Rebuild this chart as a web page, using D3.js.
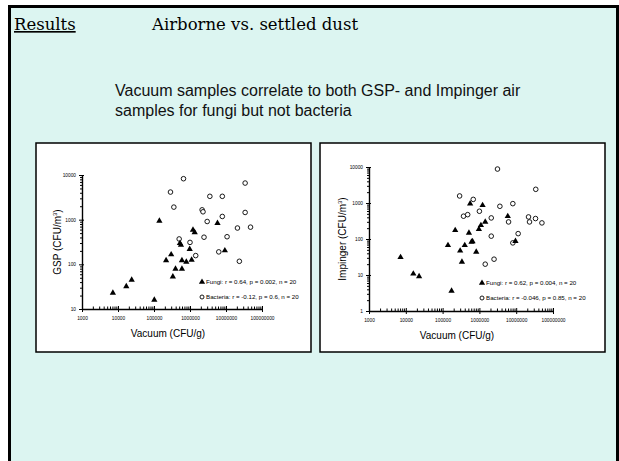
<!DOCTYPE html>
<html>
<head>
<meta charset="utf-8">
<script src="https://cdn.jsdelivr.net/npm/d3@7"></script>
<style>
  body { margin: 0; background: #fff; }
  svg text { font-family: "Liberation Sans", Arial, sans-serif; }
</style>
</head>
<body>
<div id="slide"></div>
<script>
// vacuum (CFU/g) vs air (CFU/m3) pairs
const gspFungi = [
  [7200, 23], [17000, 32], [24000, 45], [141000, 940], [102000, 16],
  [217000, 122], [300000, 166], [334000, 53], [396000, 79], [525000, 296],
  [560000, 270], [597000, 122], [597000, 79], [790000, 113], [980000, 219],
  [1110000, 126], [1210000, 592], [1350000, 517], [5800000, 837], [9300000, 204]
];
const gspBacteria = [
  [660000, 8260], [287000, 4150], [356000, 1910], [3560000, 3330], [7900000, 3330],
  [34000000, 6600], [2170000, 1660], [2300000, 1500], [3000000, 910], [7900000, 1180],
  [34000000, 1450], [20800000, 650], [48000000, 680], [2450000, 405], [500000, 370],
  [1000000, 310], [1440000, 157], [10700000, 415], [6300000, 190], [23500000, 117]
];
const impFungi = [
  [7200, 31], [16000, 10.8], [23000, 9.1], [175000, 3.6], [140000, 67],
  [220000, 175], [300000, 47], [335000, 23], [400000, 67], [520000, 148],
  [560000, 960], [610000, 83], [650000, 86], [820000, 44], [970000, 187],
  [1100000, 240], [1220000, 863], [1440000, 298], [5900000, 428], [9550000, 87]
];
const impBacteria = [
  [3100000, 8770], [290000, 1570], [680000, 1260], [34000000, 2400], [3600000, 810],
  [8100000, 960], [1000000, 590], [370000, 430], [480000, 475], [2100000, 385],
  [6200000, 298], [21600000, 410], [23000000, 298], [33500000, 370], [50000000, 280],
  [11300000, 141], [2100000, 120], [8100000, 78], [2500000, 27.5], [1440000, 20]
];

const xTicks = [1e3, 1e4, 1e5, 1e6, 1e7, 1e8];
const gspTicks = [10, 100, 1000, 10000];
const impTicks = [1, 10, 100, 1000, 10000];
const gspLegend = ["Fungi: r = 0.64, p = 0.002, n = 20", "Bacteria: r = -0.12, p = 0.6, n = 20"];
const impLegend = ["Fungi: r = 0.62, p = 0.004, n = 20", "Bacteria: r = -0.046, p = 0.85, n = 20"];

const W = 619, H = 461;
const svg = d3.select("#slide").append("svg")
  .attr("width", W).attr("height", H);

// slide background + frame
svg.append("rect").attr("x", 9.5).attr("y", 6.5).attr("width", 608).attr("height", 470)
  .attr("fill", "#dcf5f1").attr("stroke", "#000").attr("stroke-width", 3);

svg.append("text").attr("x", 14).attr("y", 30)
  .style("font-family", "'DejaVu Serif', serif").style("font-size", "16.5px")
  .style("text-decoration", "underline")
  .text("Results");
svg.append("text").attr("x", 152).attr("y", 30)
  .style("font-family", "'DejaVu Serif', serif").style("font-size", "16.5px")
  .text("Airborne vs. settled dust");

svg.append("text").attr("x", 115).attr("y", 96)
  .style("font-size", "16px").attr("fill", "#111")
  .text("Vacuum samples correlate to both GSP- and Impinger air");
svg.append("text").attr("x", 115).attr("y", 116)
  .style("font-size", "16px").attr("fill", "#111")
  .text("samples for fungi but not bacteria");

function minors(lo, hi) {
  const out = [];
  for (let p = lo; p < hi; p *= 10) for (let k = 2; k <= 9; k++) out.push(p * k);
  return out;
}

function panel(opt) {
  const g = svg.append("g");
  g.append("rect").attr("x", opt.box[0]).attr("y", opt.box[1])
    .attr("width", opt.box[2]).attr("height", opt.box[3])
    .attr("fill", "#fff").attr("stroke", "#000").attr("stroke-width", 1.5);

  const x = d3.scaleLog().domain([1e3, 1e8]).range(opt.xr);
  const y = d3.scaleLog().domain([opt.yTicks[0], opt.yTicks[opt.yTicks.length - 1]]).range(opt.yr);

  // minor ticks first
  g.append("g").attr("transform", `translate(0,${opt.yr[0]})`)
    .call(d3.axisTop(x).tickValues(minors(1e3, 1e8)).tickSize(2.5).tickFormat(""))
    .call(a => a.select(".domain").remove());
  g.append("g").attr("transform", `translate(${opt.xr[0]},0)`)
    .call(d3.axisLeft(y).tickValues(minors(opt.yTicks[0], opt.yTicks[opt.yTicks.length - 1])).tickSize(2).tickFormat(""))
    .call(a => a.select(".domain").remove());

  const xAxis = g.append("g").attr("transform", `translate(0,${opt.yr[0]})`)
    .call(d3.axisBottom(x).tickValues(xTicks).tickSizeInner(3).tickSizeOuter(0).tickPadding(5).tickFormat(d3.format("d")));
  xAxis.selectAll(".tick line").attr("y1", -3);
  xAxis.selectAll("text").style("font-size", "4.8px").style("font-family", "'Liberation Sans', Arial");

  const yAxis = g.append("g").attr("transform", `translate(${opt.xr[0]},0)`)
    .call(d3.axisLeft(y).tickValues(opt.yTicks).tickSizeInner(3).tickSizeOuter(0).tickPadding(3).tickFormat(d3.format("d")));
  yAxis.selectAll(".tick line").attr("x1", 2);
  yAxis.selectAll("text").style("font-size", "4.8px").style("font-family", "'Liberation Sans', Arial");
  g.selectAll(".domain").attr("stroke-width", 1.4);

  g.append("text").attr("x", (opt.xr[0] + opt.xr[1]) / 2 - 4).attr("y", opt.yr[0] + 28)
    .attr("text-anchor", "middle").style("font-size", "10px").text("Vacuum (CFU/g)");
  g.append("text").attr("transform", `translate(${opt.yLabX},${(opt.yr[0] + opt.yr[1]) / 2}) rotate(-90)`)
    .attr("text-anchor", "middle").style("font-size", "10px")
    .text(opt.yLabel).append("tspan").attr("dy", -4).style("font-size", "6px").text("3")
    .select(function () { return this.parentNode; })
    .append("tspan").attr("dy", 4).text(")");

  const tri = d3.symbol(d3.symbolTriangle).size(17);

  g.append("g").selectAll("circle").data(opt.bacteria).join("circle")
    .attr("cx", d => x(d[0])).attr("cy", d => y(d[1])).attr("r", 2.3)
    .attr("fill", "#fff").attr("stroke", "#000").attr("stroke-width", 0.9);
  g.append("g").selectAll("path").data(opt.fungi).join("path")
    .attr("d", tri).attr("transform", d => `translate(${x(d[0])},${y(d[1])})`)
    .attr("fill", "#000");

  // legend
  const lg = g.append("g").attr("transform", `translate(${opt.leg[0]},${opt.leg[1]})`);
  lg.append("path").attr("d", tri).attr("transform", "translate(0,-2)").attr("fill", "#000");
  lg.append("text").attr("x", 4).attr("y", 0).style("font-size", "6.2px").text(opt.legend[0]);
  lg.append("circle").attr("cx", 0).attr("cy", 13).attr("r", 2).attr("fill", "#fff").attr("stroke", "#000").attr("stroke-width", 0.9);
  lg.append("text").attr("x", 4).attr("y", 15).style("font-size", "6.2px").text(opt.legend[1]);
}

panel({
  box: [36, 143, 275, 209], xr: [82, 262], yr: [309, 175], yTicks: gspTicks,
  yLabel: "GSP (CFU/m", yLabX: 61, fungi: gspFungi, bacteria: gspBacteria,
  leg: [202, 284], legend: gspLegend
});
panel({
  box: [320, 143, 285, 209], xr: [369, 553], yr: [311, 167], yTicks: impTicks,
  yLabel: "Impinger (CFU/m", yLabX: 346, fungi: impFungi, bacteria: impBacteria,
  leg: [482, 285], legend: impLegend
});
</script>
</body>
</html>
